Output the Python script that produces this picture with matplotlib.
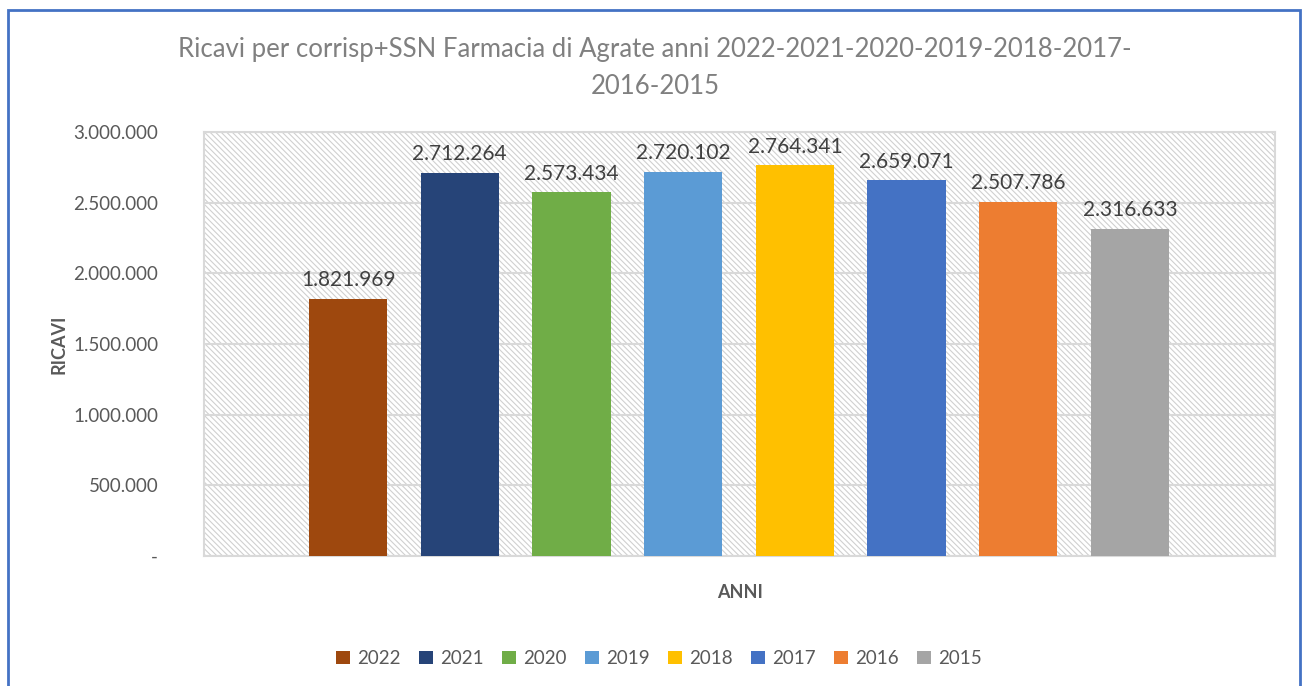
import numpy as np
import matplotlib.pyplot as plt
from matplotlib.patches import Rectangle, Patch
from matplotlib.ticker import FuncFormatter

plt.rcParams['font.family'] = ['Lato', 'DejaVu Sans']
plt.rcParams['hatch.color'] = '#d0d0d0'
plt.rcParams['hatch.linewidth'] = 0.8

anni = ['2022', '2021', '2020', '2019', '2018', '2017', '2016', '2015']
ricavi = [1821969, 2712264, 2573434, 2720102, 2764341, 2659071, 2507786, 2316633]
colori = ['#9e480e', '#264478', '#70ad47', '#5b9bd5', '#ffc000', '#4472c4', '#ed7d31', '#a5a5a5']

def fmt_it(v):
    return '{:,.0f}'.format(v).replace(',', '.')

fig = plt.figure(figsize=(13.02, 6.86), dpi=100)
ax = fig.add_axes([0.1567, 0.1895, 0.8226, 0.618])

# hatched plot area background
ax.add_patch(Rectangle((0, 0), 1, 1, transform=ax.transAxes, facecolor='white',
                       edgecolor='#d0d0d0', hatch='\\\\\\\\\\\\', linewidth=0, zorder=0))

x = np.arange(len(anni))
bars = ax.bar(x, ricavi, width=0.70, color=colori, zorder=3)
for xi, v in zip(x, ricavi):
    ax.text(xi, v + 60000, fmt_it(v), ha='center', va='bottom', fontsize=15, color='#404040', zorder=4)

ax.set_xlim(-1.29, 8.30)
ax.set_ylim(0, 3000000)
ax.set_yticks(np.arange(0, 3000001, 500000))
ax.yaxis.set_major_formatter(FuncFormatter(lambda v, p: '-' if v == 0 else fmt_it(v)))
ax.set_xticks([])
ax.tick_params(axis='y', length=0, pad=33, labelsize=13.5, labelcolor='#595959')
ax.grid(axis='y', color='#d9d9d9', linewidth=1.5, zorder=1)
ax.set_axisbelow(True)
for s in ax.spines.values():
    s.set_color('#d9d9d9')
    s.set_linewidth(1.5)

ax.set_ylabel('RICAVI', fontsize=13, fontweight='bold', color='#595959', labelpad=4)
ax.set_xlabel('ANNI', fontsize=13, fontweight='bold', color='#595959', labelpad=20)

fig.text(0.503, 0.928, 'Ricavi per corrisp+SSN Farmacia di Agrate anni 2022-2021-2020-2019-2018-2017-',
         ha='center', va='center', fontsize=18.5, color='#808080')
fig.text(0.503, 0.874, '2016-2015', ha='center', va='center', fontsize=18.5, color='#808080')

handles = [Patch(facecolor=c, label=a) for a, c in zip(anni, colori)]
fig.legend(handles=handles, loc='center', bbox_to_anchor=(0.506, 0.04), ncol=8, frameon=False,
           fontsize=13.5, labelcolor='#595959', handlelength=0.75, handleheight=0.75,
           handletextpad=0.4, columnspacing=0.95)

# outer chart border
fig.patches.append(Rectangle((8 / 1302, -0.01), 1292 / 1302, 1 - 10 / 686 + 0.01,
                             transform=fig.transFigure, fill=False, edgecolor='#4472c4', linewidth=2))

fig.savefig('out.png', dpi=100)
